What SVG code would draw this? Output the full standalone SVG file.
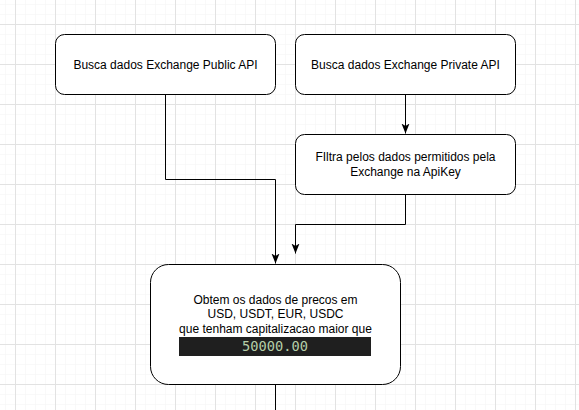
<svg xmlns="http://www.w3.org/2000/svg" width="579" height="410" viewBox="0 0 579 410">
<defs>
<pattern id="minor" x="5" y="4" width="10" height="10" patternUnits="userSpaceOnUse">
<path d="M0 0H10M0 0V10" fill="none" stroke="#f3f3f3" stroke-width="1"/>
</pattern>
<pattern id="major" x="15" y="24" width="40" height="40" patternUnits="userSpaceOnUse">
<path d="M0 0.5H40M0.5 0V40" fill="none" stroke="#e2e2e2" stroke-width="1"/>
</pattern>
<marker id="arr" viewBox="0 0 10 10" refX="10" refY="5" markerWidth="10" markerHeight="10" markerUnits="userSpaceOnUse" orient="auto">
<path d="M0 1L10 5L0 9L2.5 5Z" fill="#000"/>
</marker>
</defs>
<style>
.box{fill:#fff;stroke:#000;stroke-width:1}
.t{font-family:"Liberation Sans",Arial,sans-serif;font-size:12px;fill:#000;text-anchor:middle}
.c{fill:none;stroke:#000;stroke-width:1}
</style>
<rect width="579" height="410" fill="#fff"/>
<rect width="579" height="410" fill="url(#minor)"/>
<rect width="579" height="410" fill="url(#major)"/>
<g id="connectors">
<path class="c" d="M165.5 94.5V179.5H275.5V263.5" marker-end="url(#arr)"/>
<path class="c" d="M405.5 94.5V133.5" marker-end="url(#arr)"/>
<path class="c" d="M405.5 194.5V224.5H295.5V253.5" marker-end="url(#arr)"/>
<path class="c" d="M275.5 384.5V410"/>
</g>
<g id="public">
<rect class="box" x="55.5" y="34.5" width="220" height="60" rx="9"/>
<text class="t" x="165.5" y="68.5">Busca dados Exchange Public API</text>
</g>
<g id="private">
<rect class="box" x="295.5" y="34.5" width="220" height="60" rx="9"/>
<text class="t" x="405.5" y="68.5">Busca dados Exchange Private API</text>
</g>
<g id="filtra">
<rect class="box" x="295.5" y="134.5" width="220" height="60" rx="9"/>
<text class="t" x="405.5" y="161">FIltra pelos dados permitidos pela</text>
<text class="t" x="405.5" y="176">Exchange na ApiKey</text>
</g>
<g id="obtem">
<rect class="box" x="150.5" y="264.5" width="250" height="120" rx="18"/>
<text class="t" x="275.5" y="304">Obtem os dados de precos em</text>
<text class="t" x="275.5" y="318">USD, USDT, EUR, USDC</text>
<text class="t" x="275.5" y="333">que tenham capitalizacao maior que</text>
<rect x="179" y="337" width="192" height="19" fill="#1f1f1f"/>
<text x="275" y="351" font-family="'DejaVu Sans Mono',monospace" font-size="13.7" fill="#b5cea8" text-anchor="middle">50000.00</text>
</g>
</svg>
